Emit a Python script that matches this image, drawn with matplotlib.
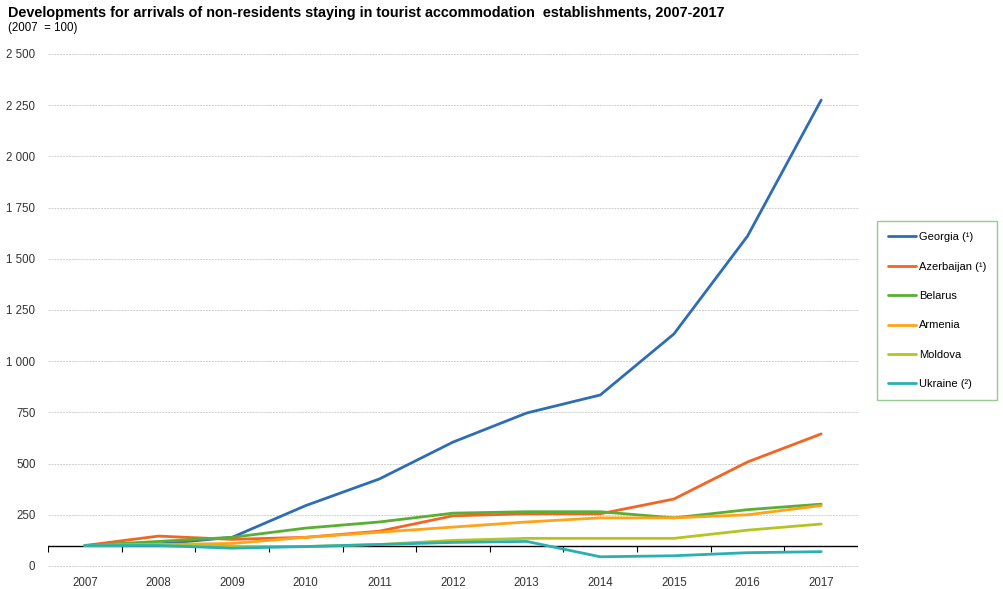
import matplotlib.pyplot as plt
from matplotlib.ticker import FuncFormatter

plt.rcParams['font.family'] = ['Liberation Sans', 'DejaVu Sans']

years = [2007, 2008, 2009, 2010, 2011, 2012, 2013, 2014, 2015, 2016, 2017]
georgia = [100, 107, 140, 295, 425, 605, 747, 835, 1133, 1611, 2275]
azerbaijan = [100, 146, 130, 140, 170, 245, 255, 255, 327, 508, 645]
belarus = [100, 120, 140, 185, 215, 258, 265, 265, 235, 275, 302]
armenia = [100, 105, 110, 140, 165, 190, 215, 235, 235, 250, 295]
moldova = [100, 105, 95, 95, 105, 125, 135, 135, 135, 175, 205]
ukraine = [100, 100, 87, 95, 105, 115, 120, 45, 50, 65, 70]

series = [
    ("Georgia (¹)", georgia, "#2e6db6"),
    ("Azerbaijan (¹)", azerbaijan, "#f26522"),
    ("Belarus", belarus, "#5aae32"),
    ("Armenia", armenia, "#ffa31a"),
    ("Moldova", moldova, "#b5c421"),
    ("Ukraine (²)", ukraine, "#2ab0b4"),
]

fig = plt.figure(figsize=(10.04, 5.89), dpi=100)
ax = fig.add_axes([48 / 1004, 23 / 589, 810 / 1004, 512 / 589])

for name, vals, col in series:
    ax.plot(years, vals, color=col, lw=2.0, label=name, solid_capstyle='round')

ax.set_xlim(2006.5, 2017.5)
ax.set_ylim(0, 2500)
ax.set_yticks(range(0, 2501, 250))
ax.yaxis.set_major_formatter(FuncFormatter(lambda v, p: f"{int(v):,}".replace(",", " ")))
ax.set_xticks(years)
ax.tick_params(axis='both', length=0, labelsize=8.3, colors='#333333')
ax.tick_params(axis='y', pad=9)
ax.tick_params(axis='x', pad=8)
ax.grid(axis='y', color='#d0d0d0', ls=(0, (2, 1)), lw=0.7)
ax.set_axisbelow(True)
for gl in ax.get_ygridlines():
    gl.set_clip_on(False)
for s in ax.spines.values():
    s.set_visible(False)

# base line at 100 with ticks between years
ax.axhline(100, color='black', lw=1.0, zorder=1)
bounds = [y - 0.5 for y in years] + [2017.5]
ax.vlines(bounds, 100 - 33, 100, color='black', lw=0.8, zorder=1)

fig.text(8 / 1004, 1 - 13 / 589, "Developments for arrivals of non-residents staying in tourist accommodation  establishments, 2007-2017",
         fontsize=10.4, fontweight='bold', va='center')
fig.text(8 / 1004, 1 - 28 / 589, "(2007  = 100)", fontsize=8.3, va='center')

leg = fig.legend(loc='upper left', bbox_to_anchor=(877 / 1004, 1 - 221 / 589), fontsize=8,
                 frameon=True, fancybox=False, labelspacing=1.75, handlelength=2.5,
                 handletextpad=0.25, borderpad=1.0, borderaxespad=0)
leg.get_frame().set_edgecolor('#7fbf6f')
leg.get_frame().set_linewidth(1.0)

fig.savefig("out.png", dpi=100)
